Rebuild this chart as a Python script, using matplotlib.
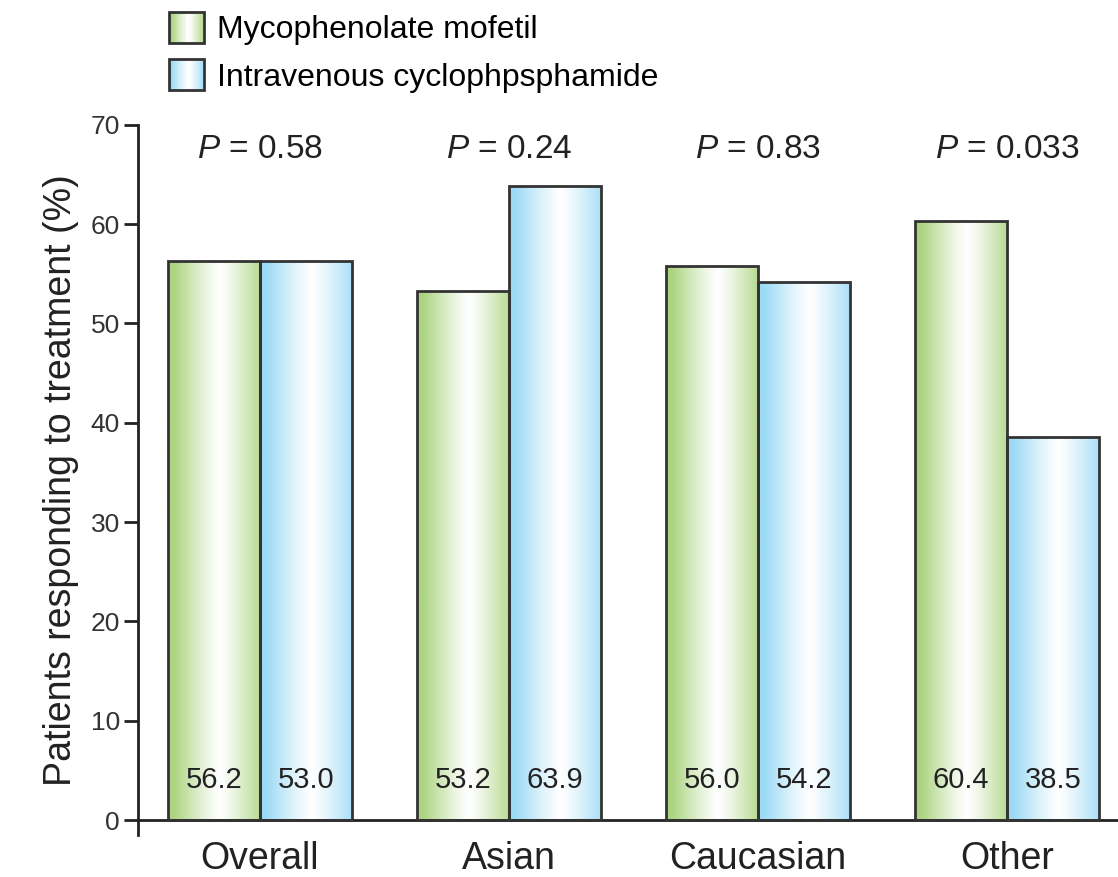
import matplotlib
matplotlib.use("Agg")
import matplotlib.pyplot as plt
import numpy as np
from matplotlib.patches import Rectangle
from matplotlib.legend_handler import HandlerBase

plt.rcParams['font.family'] = ['Liberation Sans', 'DejaVu Sans']
plt.rcParams['mathtext.fontset'] = 'custom'
plt.rcParams['mathtext.rm'] = 'Liberation Sans'
plt.rcParams['mathtext.it'] = 'Liberation Sans:italic'

categories = ["Overall", "Asian", "Caucasian", "Other"]
series_names = ["Mycophenolate mofetil", "Intravenous cyclophpsphamide"]
# bar heights as drawn
mmf_heights = [56.3, 53.3, 55.8, 60.3]
ivc_heights = [56.3, 63.8, 54.2, 38.6]
# values printed inside the bars
mmf_labels = ["56.2", "53.2", "56.0", "60.4"]
ivc_labels = ["53.0", "63.9", "54.2", "38.5"]
p_values = ["0.58", "0.24", "0.83", "0.033"]

green = np.array([172, 212, 128]) / 255
blue = np.array([155, 218, 245]) / 255
edge = "#333333"


def gradient_colors(base, n=60):
    # color -> white (slightly right of centre) -> color
    t = np.linspace(0, 1, n)
    w = 1 - np.clip(np.abs(t - 0.56) / 0.5, 0, 1) ** 1.2
    return base[None, :] * (1 - w[:, None]) + w[:, None]


class GradHandler(HandlerBase):
    def __init__(self, base):
        super().__init__()
        self.base = base

    def create_artists(self, legend, orig_handle, xdescent, ydescent,
                       width, height, fontsize, trans):
        n = 20
        cols = gradient_colors(self.base, n)
        arts = []
        for i in range(n):
            r = Rectangle((-xdescent + width * i / n, -ydescent), width / n + 0.3, height,
                          facecolor=cols[i], edgecolor='none', transform=trans)
            arts.append(r)
        arts.append(Rectangle((-xdescent, -ydescent), width, height, facecolor='none',
                              edgecolor=edge, linewidth=2, transform=trans))
        return arts


fig = plt.figure(figsize=(11.18, 8.77), dpi=100)
ax = fig.add_axes([0.1234, 0.048, 0.8766, 0.8096])

x = np.arange(len(categories))
w = 0.37
ax.set_xlim(-0.49, 3.446)
ax.set_ylim(-1.5, 70)

for xs, hs, base in [(x - w / 2, mmf_heights, green), (x + w / 2, ivc_heights, blue)]:
    bars = ax.bar(xs, hs, width=w, facecolor='none', edgecolor=edge, linewidth=2, zorder=3)
    img = gradient_colors(base)[None, :, :]
    for b in bars:
        x0, y0 = b.get_x(), b.get_y()
        im = ax.imshow(img, extent=(x0, x0 + b.get_width(), y0, y0 + b.get_height()),
                       aspect='auto', interpolation='bilinear', zorder=2)
        im.set_clip_path(b)

for i in range(len(categories)):
    ax.text(x[i] - w / 2, 4.0, mmf_labels[i], ha='center', va='center', fontsize=21, color='#222222')
    ax.text(x[i] + w / 2, 4.0, ivc_labels[i], ha='center', va='center', fontsize=21, color='#222222')
    ax.text(x[i], 67.5, "$P$ = " + p_values[i], ha='center', va='center', fontsize=24, color='#222222')

ax.spines['top'].set_visible(False)
ax.spines['right'].set_visible(False)
ax.spines['bottom'].set_position(('data', 0))
for s in ['left', 'bottom']:
    ax.spines[s].set_linewidth(2)
    ax.spines[s].set_color('#222222')

ax.set_yticks(range(0, 71, 10))
ax.tick_params(axis='y', length=10, width=2, color='#222222', labelsize=19, pad=3, labelcolor='#333333')
ax.set_xticks(x)
ax.set_xticklabels(categories)
ax.tick_params(axis='x', length=0, labelsize=27, pad=15, labelcolor='#222222')
ax.set_ylabel("Patients responding to treatment (%)", fontsize=27, labelpad=8, color='#222222')

handles = [Rectangle((0, 0), 1, 1), Rectangle((0, 0), 1, 1)]
fig.legend(handles, series_names, loc='upper left', bbox_to_anchor=(0.131, 1.012),
           frameon=False, fontsize=23, handlelength=1.1, handleheight=1.1,
           handletextpad=0.4, labelspacing=0.45, borderaxespad=0.3,
           handler_map={handles[0]: GradHandler(green), handles[1]: GradHandler(blue)})

fig.savefig("out.png", dpi=100)
